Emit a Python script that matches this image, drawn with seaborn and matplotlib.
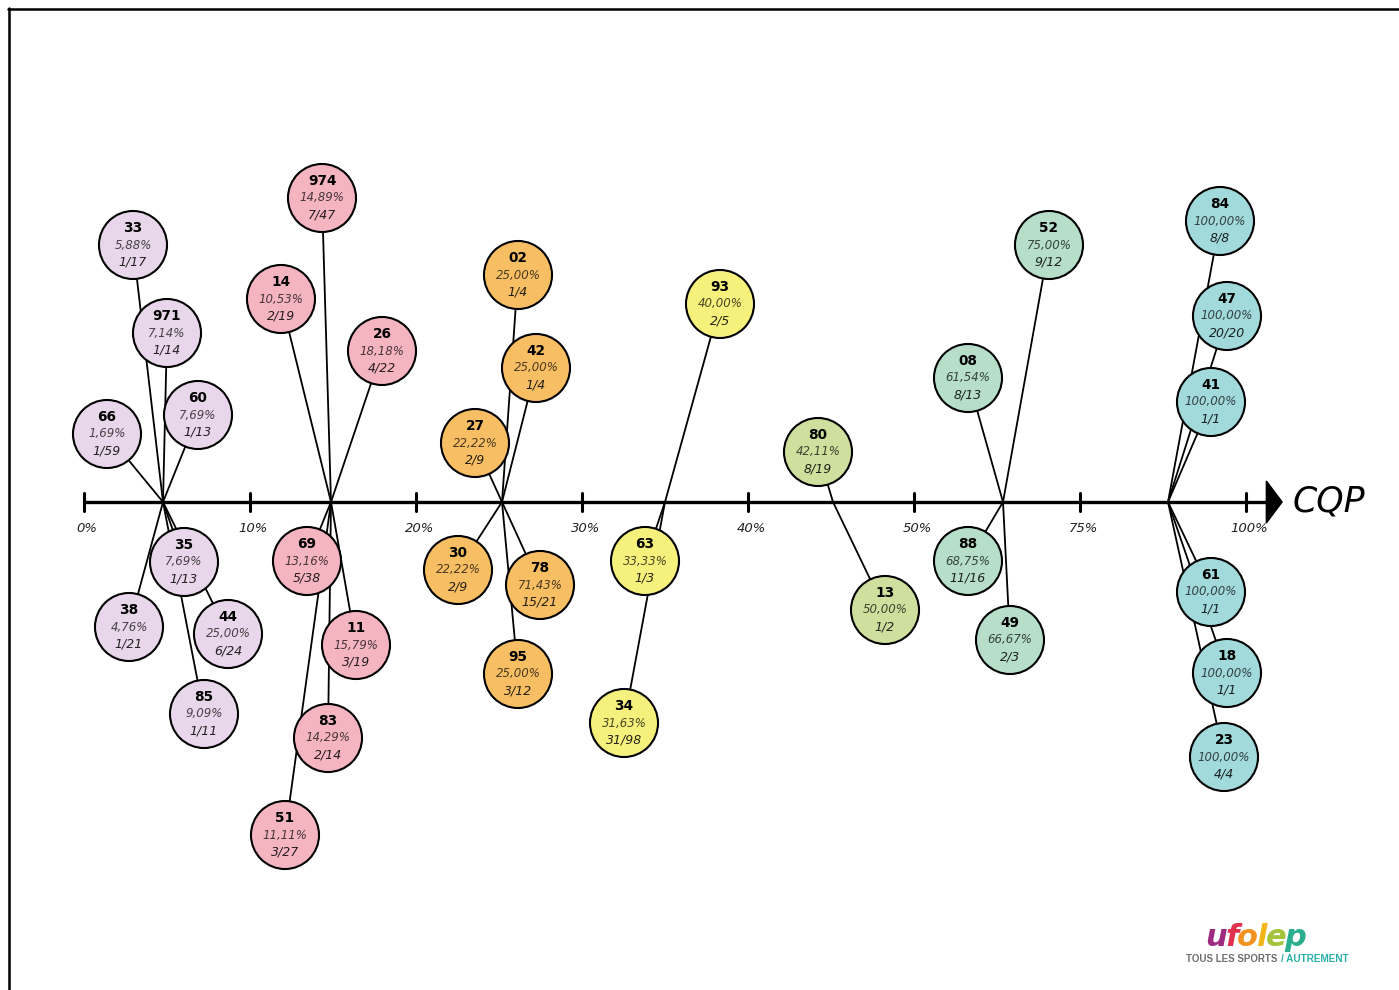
import numpy as np
import pandas as pd
import seaborn as sns
import matplotlib.pyplot as plt
import matplotlib.colors as mcolors
from matplotlib.lines import Line2D

# axis graduations (evenly spaced, non linear labels)
tick_labels = ['0%', '10%', '20%', '30%', '40%', '50%', '75%', '100%']

# one colour per tranche (bubbles hang from the middle of their tranche)
group_colors = ['#E8D7EA', '#F4B5C1', '#F8BE64', '#F6F07C', '#CFDF9D', '#B6DEC8', '#A2D9DB']

# departments
codes = ['33', '971', '66', '60', '35', '38', '44', '85',
         '974', '14', '26', '69', '11', '83', '51',
         '02', '42', '27', '30', '78', '95',
         '93', '63', '34',
         '80', '13',
         '52', '08', '88', '49',
         '84', '47', '41', '61', '18', '23']
pcts = [5.88, 7.14, 1.69, 7.69, 7.69, 4.76, 25.00, 9.09,
        14.89, 10.53, 18.18, 13.16, 15.79, 14.29, 11.11,
        25.00, 25.00, 22.22, 22.22, 71.43, 25.00,
        40.00, 33.33, 31.63,
        42.11, 50.00,
        75.00, 61.54, 68.75, 66.67,
        100.0, 100.0, 100.0, 100.0, 100.0, 100.0]
num = [1, 1, 1, 1, 1, 1, 6, 1,
       7, 2, 4, 5, 3, 2, 3,
       1, 1, 2, 2, 15, 3,
       2, 1, 31,
       8, 1,
       9, 8, 11, 2,
       8, 20, 1, 1, 1, 4]
den = [17, 14, 59, 13, 13, 21, 24, 11,
       47, 19, 22, 38, 19, 14, 27,
       4, 4, 9, 9, 21, 12,
       5, 3, 98,
       19, 2,
       12, 13, 16, 3,
       8, 20, 1, 1, 1, 4]
group = [0] * 8 + [1] * 7 + [2] * 6 + [3] * 3 + [4] * 2 + [5] * 4 + [6] * 6

# hand layout of the bubbles: offset (px) from the anchor point on the axis
layout_dx = [-30, 4, -56, 35, 21, -34, 65, 41,
             -9, -50, 51, -24, 25, -3, -46,
             16, 34, -27, -44, 38, 16,
             55, -20, -41,
             -15, 52,
             46, -35, -35, 7,
             52, 59, 43, 43, 59, 56]
layout_dy = [257, 169, 68, 87, -60, -125, -132, -212,
             304, 203, 151, -59, -143, -236, -333,
             227, 134, 59, -68, -83, -172,
             198, -59, -221,
             50, -108,
             257, 124, -59, -138,
             281, 186, 100, -90, -171, -255]
# small nudge of each anchor from the tranche middle (px)
anchor_nudge = [-4, -2, 3, 0, 2, 6, 5]

W, H = 1399, 990
X0, STEP, AXIS_Y = 84, 166.0, 502  # pixel position of 0% tick, tick spacing, axis height

df = pd.DataFrame({'code': codes, 'pct': pcts, 'num': num, 'den': den, 'group': group})
df['anchor'] = df['group'] + 0.5 + np.array(anchor_nudge)[df['group']] / STEP
df['x'] = df['anchor'] + np.array(layout_dx) / STEP
df['y'] = np.array(layout_dy, dtype=float)

sns.set_style('white')
plt.rcParams['font.family'] = ['DejaVu Sans']

fig = plt.figure(figsize=(W / 100, H / 100), dpi=100)
ax = fig.add_axes([0, 0, 1, 1])
ax.set_xlim(-X0 / STEP, (W - X0) / STEP)
ax.set_ylim(-(H - AXIS_Y), AXIS_Y)
ax.axis('off')

# connector lines (behind the bubbles)
for _, r in df.iterrows():
    ax.plot([r['anchor'], r['x']], [0, r['y']], color='black', lw=1.3, zorder=1)

# axis, ticks and arrow
ax_end = (1268 - X0) / STEP
ax.plot([0, ax_end], [0, 0], color='black', lw=2.4, solid_capstyle='butt', zorder=2)
ax.fill([ax_end - 0.01, ax_end - 0.01, ax_end + 0.085], [21, -21, 0], color='black', zorder=2)
for i, lab in enumerate(tick_labels):
    ax.plot([i, i], [-9, 9], color='black', lw=2.2, zorder=2)
    ax.text(i + 0.02, -26, lab, ha='center', va='center', fontsize=9.5,
            style='italic', color='#222222')
ax.text((1329 - X0) / STEP, 1, 'CQP', ha='center', va='center', fontsize=25,
        style='italic', color='black')

# bubbles
palette = {g: c for g, c in enumerate(group_colors)}
sns.scatterplot(data=df, x='x', y='y', hue='group', palette=palette, s=2400,
                edgecolor='black', linewidth=1.5, legend=False, zorder=3, ax=ax)

for _, r in df.iterrows():
    base = np.array(mcolors.to_rgb(group_colors[int(r['group'])]))
    pct_txt = f"{r['pct']:.2f}".replace('.', ',') + '%'
    ax.text(r['x'], r['y'] + 17, r['code'], ha='center', va='center',
            fontsize=9.8, fontweight='bold', color='black', zorder=4)
    ax.text(r['x'], r['y'], pct_txt, ha='center', va='center',
            fontsize=8.5, style='italic', color=base * 0.3, zorder=4)
    ax.text(r['x'], r['y'] - 17, f"{int(r['num'])}/{int(r['den'])}", ha='center', va='center',
            fontsize=9, style='italic', color=base * 0.15, zorder=4)

# frame (top and left edges)
fig.add_artist(Line2D([8 / W, 1], [1 - 9 / H, 1 - 9 / H], color='black', lw=1.8,
                      transform=fig.transFigure))
fig.add_artist(Line2D([9 / W, 9 / W], [0, 1 - 8 / H], color='black', lw=1.8,
                      transform=fig.transFigure))

# logo
logo_letters = list('ufolep')
logo_colors = ['#9E2B80', '#E0324F', '#F29321', '#F2B619', '#A4C23A', '#2BAE8E']
renderer = fig.canvas.get_renderer()
lx = 1205
for ch, c in zip(logo_letters, logo_colors):
    t = fig.text(lx / W, 1 - 946 / H, ch, fontsize=22, fontweight='bold', style='italic',
                 color=c, va='baseline', ha='left')
    bb = t.get_window_extent(renderer)
    lx = bb.x1 - 1.5
fig.text(1186 / W, 1 - 962 / H, 'TOUS LES SPORTS', fontsize=7, fontweight='bold',
         family=['Liberation Sans', 'DejaVu Sans'], color='#6E6E6E', va='baseline', ha='left')
fig.text(1281 / W, 1 - 962 / H, '/ AUTREMENT', fontsize=7.2, fontweight='bold',
         family=['Liberation Sans', 'DejaVu Sans'], color='#2AAFA6', va='baseline', ha='left')

fig.savefig('out.png', dpi=100, facecolor='white')
